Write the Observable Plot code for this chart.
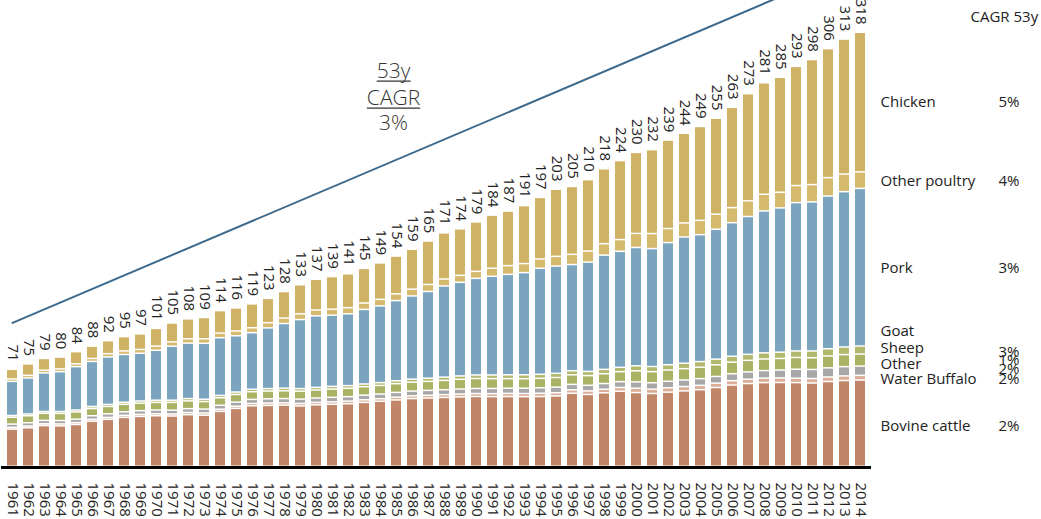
<!DOCTYPE html>
<html>
<head>
<meta charset="utf-8">
<script src="https://cdn.jsdelivr.net/npm/d3@7"></script>
<script src="https://cdn.jsdelivr.net/npm/@observablehq/plot@0.6"></script>
<style>
  html, body { margin: 0; padding: 0; background: #fff; overflow: hidden; }
  #chart svg { display: block; }
</style>
</head>
<body>
<div id="chart"></div>
<script>
// ---- Data (million tonnes) ----
const years = ["1961","1962","1963","1964","1965","1966","1967","1968","1969","1970",
  "1971","1972","1973","1974","1975","1976","1977","1978","1979","1980",
  "1981","1982","1983","1984","1985","1986","1987","1988","1989","1990",
  "1991","1992","1993","1994","1995","1996","1997","1998","1999","2000",
  "2001","2002","2003","2004","2005","2006","2007","2008","2009","2010",
  "2011","2012","2013","2014"];

const totals = [71,75,79,80,84,88,92,95,97,101,
  105,108,109,114,116,119,123,128,133,137,
  139,141,145,149,154,159,165,171,174,179,
  184,187,191,197,203,205,210,218,224,230,
  232,239,244,249,255,263,273,281,285,293,
  298,306,313,318];

const bovine = [27.2,28.2,29.8,29.6,30.6,33.0,34.4,35.8,36.5,37.0,
  36.8,37.8,37.4,40.2,42.4,44.3,44.6,44.8,44.2,45.0,
  45.4,45.8,46.8,47.6,48.6,49.6,50.0,50.4,50.8,51.1,
  51.0,51.1,51.0,51.1,51.5,53.5,52.6,53.8,55.0,54.0,
  53.3,54.3,55.2,56.1,57.7,59.5,60.6,61.3,61.4,61.3,
  61.0,62.1,62.8,63.2];

const waterBuffalo = [1.3,1.3,1.3,1.4,1.4,1.4,1.4,1.5,1.5,1.5,
  1.5,1.6,1.6,1.6,1.6,1.7,1.7,1.7,1.8,1.8,
  1.8,1.9,1.9,1.9,2.0,2.0,2.0,2.1,2.1,2.2,
  2.2,2.3,2.3,2.4,2.4,2.5,2.6,2.6,2.7,3.2,
  3.2,3.2,3.2,3.2,3.2,3.2,3.2,3.3,3.3,3.2,
  3.3,3.3,3.4,3.4];

const otherMeat = [2.4,2.4,2.5,2.5,2.5,2.6,2.6,2.6,2.7,2.7,
  2.8,2.8,2.9,2.9,3.0,3.0,3.1,3.1,3.2,3.2,
  3.3,3.3,3.4,3.4,3.5,3.5,3.6,3.6,3.7,3.7,
  3.8,3.8,3.9,4.0,4.1,4.0,4.1,4.2,4.3,4.6,
  4.7,4.8,4.8,4.9,4.9,5.1,5.3,5.5,5.8,6.6,
  6.6,6.7,6.8,6.8];

const sheep = [5.0,5.1,5.2,5.2,5.3,5.3,5.4,5.5,5.5,5.6,
  5.7,5.7,5.5,5.5,5.6,5.6,5.7,5.7,5.8,5.9,
  6.0,6.1,6.2,6.3,6.4,6.5,6.6,6.8,7.1,7.3,
  7.2,7.0,6.9,6.9,7.0,7.0,7.1,7.2,7.3,8.1,
  8.1,8.2,8.3,8.4,8.5,8.5,8.5,8.5,8.5,8.6,
  8.6,8.7,8.8,8.8];

const goat = [1.3,1.3,1.3,1.4,1.4,1.5,1.5,1.5,1.6,1.6,
  1.6,1.7,1.7,1.7,1.8,1.8,1.8,1.9,1.9,1.9,
  2.0,2.0,2.0,2.1,2.1,2.2,2.3,2.4,2.5,2.6,
  2.7,2.8,2.9,3.0,3.1,3.0,3.1,3.2,3.2,3.7,
  3.8,3.9,4.0,4.1,4.2,4.3,4.4,4.5,4.6,4.8,
  5.0,5.3,5.6,5.9];

const pork = [25.0,26.4,28.3,29.2,31.8,33.0,34.8,35.0,35.0,36.6,
  39.6,40.6,41.0,42.3,41.2,41.5,44.5,47.4,50.6,52.4,
  52.2,52.6,54.6,56.2,58.8,61.0,63.6,66.8,68.6,70.8,
  72.3,73.6,74.9,77.7,78.6,77.8,80.1,83.7,85.0,86.7,
  86.4,89.5,92.5,93.0,95.2,97.9,101.0,104.0,105.7,108.7,
  109.2,111.9,113.8,115.5];

const otherPoultry = [1.8,1.9,2.0,2.0,2.1,2.2,2.4,2.6,2.8,3.0,
  3.1,3.2,3.3,3.4,3.5,3.6,3.8,4.0,4.2,4.3,
  4.4,4.5,4.7,4.8,4.9,5.0,5.1,5.1,5.1,5.1,
  5.9,6.4,6.6,6.8,7.1,7.5,8.1,8.4,8.6,10.3,
  11.0,10.3,10.3,10.5,11.0,11.0,11.5,12.2,11.5,12.5,
  12.7,13.5,12.9,12.1];

const chicken = [7.0,8.4,8.6,8.7,8.9,9.0,9.5,10.5,11.4,13.0,
  13.9,14.6,15.6,16.4,16.9,17.5,17.8,19.4,21.3,22.5,
  23.9,24.8,25.4,26.7,27.7,29.2,31.8,33.8,34.1,36.2,
  38.9,40.0,42.5,45.1,49.2,49.7,52.3,54.9,57.9,59.4,
  61.5,64.8,65.7,68.8,70.3,73.5,78.5,81.7,84.2,87.3,
  91.6,94.5,98.9,102.3];

// stack order, bottom to top
const seriesNames = ["Bovine cattle","Water Buffalo","Other","Sheep","Goat","Pork","Other poultry","Chicken"];
const seriesValues = [bovine, waterBuffalo, otherMeat, sheep, goat, pork, otherPoultry, chicken];
const cagrLabels = ["2%","2%","2%","1%","3%","3%","4%","5%"];

// overall CAGR trend line endpoints
const trendYears = ["1961","2014"];
const trendValues = [106, 370];

// annotation text (fraction style: 53y over CAGR over 3%)
const annotationLines = ["53y", "CAGR", "3%"];

// ---- Styles ----
const seriesColors = ["#c08667","#dcae98","#a7a7a7","#aab264","#b2b96d","#7ba5bf","#d5b96c","#cfb263"];
const labelShift = [2, 0, -8, -13, -20, 0, 0, -1];
const pctShift = [2, 0, -3, -1, 1, 0, 0, -1];
const FONT = "'Open Sans', Lato, 'DejaVu Sans', sans-serif";

// ---- Tables built from the arrays ----
const rows = [];
seriesNames.forEach((name, si) => {
  years.forEach((yr, yi) => rows.push({year: yr, series: name, value: seriesValues[si][yi]}));
});
const totalRows = years.map((yr, i) => ({year: yr, total: totals[i]}));
const trend = trendYears.map((yr, i) => ({year: yr, value: trendValues[i]}));
const last = years.length - 1;
const legendRows = seriesNames.map((name, i) => {
  const lo = d3.sum(seriesValues.slice(0, i), s => s[last]);
  return {name, cagr: cagrLabels[i], year: years[last], mid: lo + seriesValues[i][last] / 2, i};
});

const legendMarks = legendRows.flatMap(r => [
  Plot.text([r], {x: "year", y: "mid", text: "name", textAnchor: "start", dx: 20, dy: labelShift[r.i], fontSize: 15, fill: "#222"}),
  Plot.text([r], {x: "year", y: "mid", text: "cagr", textAnchor: "start", dx: 138, dy: pctShift[r.i], fontSize: 15, fill: "#222"})
]);

const annotationDy = [68, 95, 120];
const annotationMarks = annotationLines.map((t, i) =>
  Plot.text([t], {frameAnchor: "top-left", dx: 392, dy: annotationDy[i], lineAnchor: "middle", textAnchor: "middle", fontSize: 21, fontWeight: 300, fill: "#333"})
);

const chart = Plot.plot({
  width: 1041,
  height: 519,
  marginLeft: 1,
  marginRight: 170,
  marginTop: 3,
  marginBottom: 52,
  style: {fontFamily: FONT, background: "white", overflow: "hidden"},
  x: {type: "band", domain: years, padding: 0.35, label: null, axis: null},
  y: {domain: [0, 340], axis: null},
  color: {domain: seriesNames, range: seriesColors},
  marks: [
    Plot.barY(rows, {x: "year", y: "value", fill: "series", order: seriesNames, insetBottom: 1.5}),
    Plot.ruleY([0], {stroke: "#000", strokeWidth: 3}),
    Plot.axisX({tickSize: 0, tickPadding: 15, tickRotate: 90, fontSize: 15, fill: "#222", label: null}),
    Plot.text(totalRows, {x: "year", y: "total", text: d => String(d.total), rotate: 90, textAnchor: "end", dy: -9, fontSize: 15, fill: "#222"}),
    Plot.line(trend, {x: "year", y: "value", stroke: "#3d6a8c", strokeWidth: 2}),
    ...legendMarks,
    Plot.text(["CAGR 53y"], {frameAnchor: "top-left", dx: 969, dy: 14, lineAnchor: "middle", textAnchor: "start", fontSize: 15, fill: "#222"}),
    ...annotationMarks
  ]
});

document.getElementById("chart").appendChild(chart);

// underline "53y" and "CAGR" (fraction bars of the annotation)
const svg = d3.select(chart);
svg.selectAll("text").filter(function () {
  return this.textContent === annotationLines[0] || this.textContent === annotationLines[1];
}).each(function () {
  const b = this.getBoundingClientRect();
  const s = chart.getBoundingClientRect();
  const x1 = b.left - s.left, x2 = b.right - s.left, y = b.bottom - s.top;
  svg.append("line")
    .attr("x1", x1).attr("x2", x2)
    .attr("y1", y - 3).attr("y2", y - 3)
    .attr("stroke", "#333").attr("stroke-width", 1.2);
});
</script>
</body>
</html>
